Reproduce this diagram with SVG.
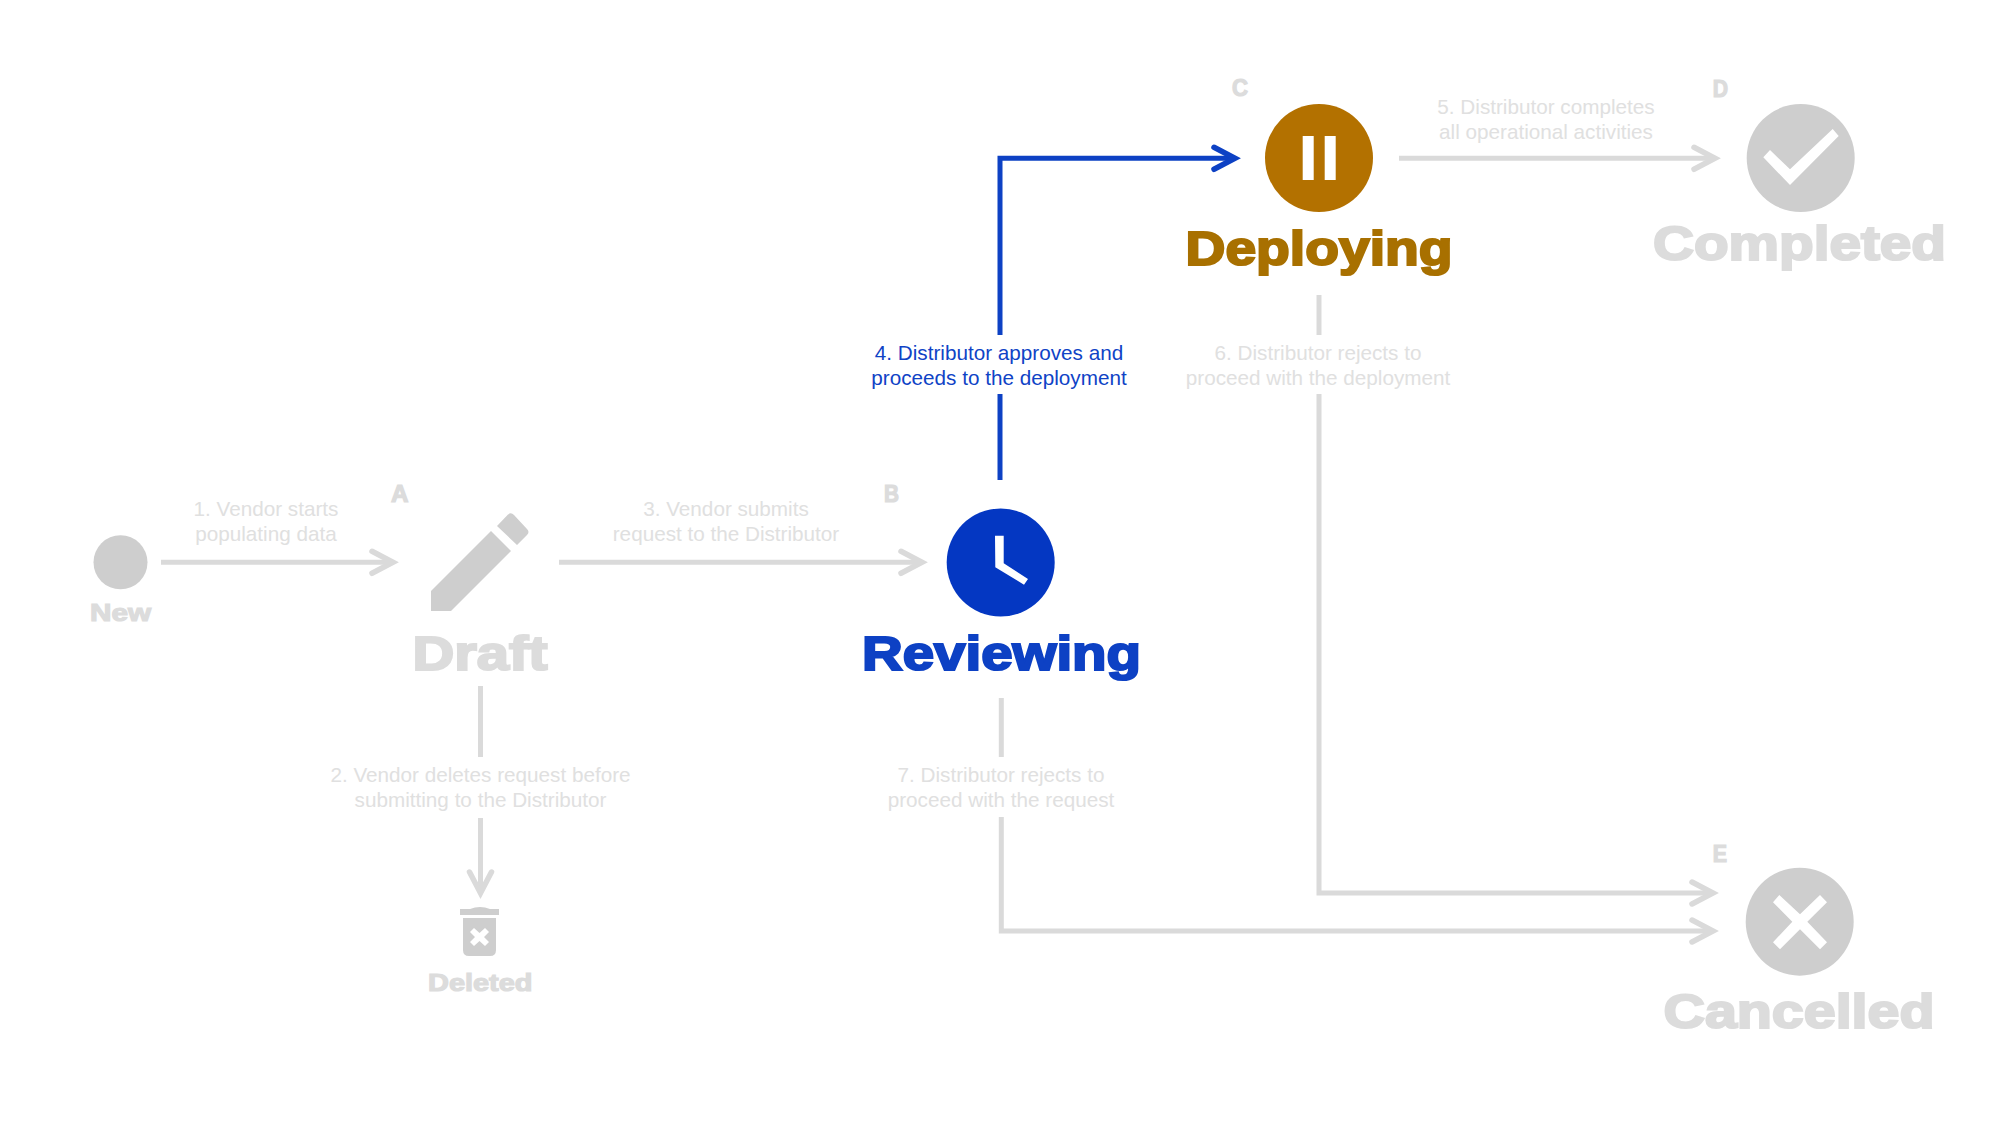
<svg xmlns="http://www.w3.org/2000/svg" width="2000" height="1125" viewBox="0 0 2000 1125">
<style>
text{font-family:"Liberation Sans",Arial,sans-serif}
.lbl{font-size:20.7px;text-anchor:middle;fill:#e0e0e0}
.lbl.on{fill:#0f43c6}
.hv{font-weight:700;stroke-width:2.2px;stroke-linejoin:miter;paint-order:stroke}
.big{font-size:49px}
.sm{font-size:24.5px;stroke-width:1.2px}
.let{font-size:23px;stroke-width:1.2px}
.g{fill:#dcdcdc;stroke:#dcdcdc}
.ic{fill:#cecece}
.w{fill:#fff}
.c{fill:none;stroke:#dadada;stroke-width:5}
.c.on{stroke:#0d41c4}
</style>
<defs>
<marker id="ag" markerUnits="userSpaceOnUse" markerWidth="40" markerHeight="40" refX="30" refY="20" orient="auto" overflow="visible"><path d="M9,9L30,20L9,31" fill="none" stroke="#dadada" stroke-width="5.500" stroke-linecap="round" stroke-miterlimit="8"/></marker>
<marker id="ab" markerUnits="userSpaceOnUse" markerWidth="40" markerHeight="40" refX="30" refY="20" orient="auto" overflow="visible"><path d="M9,9L30,20L9,31" fill="none" stroke="#0d41c4" stroke-width="5.500" stroke-linecap="round" stroke-miterlimit="8"/></marker>
</defs>
<rect width="2000" height="1125" fill="#fff"/>
<g id="connectors">
<path class="c" d="M161,562.300H393" marker-end="url(#ag)"/>
<path class="c" d="M559,562.300H922" marker-end="url(#ag)"/>
<path class="c" d="M480.500,686V757"/>
<path class="c" d="M480.500,818V893" marker-end="url(#ag)"/>
<path class="c on" d="M1000,480V394"/>
<path class="c on" d="M1000,335V158.300H1235" marker-end="url(#ab)"/>
<path class="c" d="M1399,158.300H1715" marker-end="url(#ag)"/>
<path class="c" d="M1319,295V335"/>
<path class="c" d="M1319,394V893H1713" marker-end="url(#ag)"/>
<path class="c" d="M1001.300,698V757"/>
<path class="c" d="M1001.300,817V931H1713" marker-end="url(#ag)"/>
<g id="connector-labels">
<text class="lbl" x="266" y="516">1. Vendor starts</text><text class="lbl" x="266" y="541">populating data</text>
<text class="lbl" x="480.500" y="782">2. Vendor deletes request before</text><text class="lbl" x="480.500" y="807">submitting to the Distributor</text>
<text class="lbl" x="726" y="516">3. Vendor submits</text><text class="lbl" x="726" y="541">request to the Distributor</text>
<text class="lbl on" x="999" y="360">4. Distributor approves and</text><text class="lbl on" x="999" y="385">proceeds to the deployment</text>
<text class="lbl" x="1546" y="114">5. Distributor completes</text><text class="lbl" x="1546" y="139">all operational activities</text>
<text class="lbl" x="1318" y="360">6. Distributor rejects to</text><text class="lbl" x="1318" y="385">proceed with the deployment</text>
<text class="lbl" x="1001" y="782">7. Distributor rejects to</text><text class="lbl" x="1001" y="807">proceed with the request</text>
</g>
</g>
<g id="new">
<circle class="ic" cx="120.500" cy="562.300" r="27"/>
<text class="hv sm g" x="90" y="621" textLength="61" lengthAdjust="spacingAndGlyphs">New</text>
</g>
<g id="draft">
<path class="ic" d="M431,591L491,531L511,551L451,611H431Z"/>
<path class="ic" d="M497,526L508,514.500Q511,512 514,515L527,529Q530,532 527,535L517,545Z"/>
<text class="hv big g" x="412.500" y="670" textLength="135" lengthAdjust="spacingAndGlyphs">Draft</text>
<text class="hv let g" x="391" y="502" textLength="17.500" lengthAdjust="spacingAndGlyphs">A</text>
</g>
<g id="deleted">
<path class="ic" d="M460,909H470Q475,907 480,907Q485,907 490,909H499V915H460Z"/>
<path class="ic" d="M463,918H496V950Q496,956 490,956H469Q463,956 463,950Z"/>
<path class="w" d="M474,928L479.500,933L485,928L489,932L484,937L489,942L485,946L479.500,941L474,946L470,942L475,937L470,932Z"/>
<text class="hv sm g" x="428" y="991" textLength="104.500" lengthAdjust="spacingAndGlyphs">Deleted</text>
</g>
<g id="reviewing">
<circle cx="1000.700" cy="562.500" r="54" fill="#0437c2"/>
<path class="w" d="M995,535.700H1003.700V563.300L1028,579L1024,584.700L995.300,567.300Z"/>
<text class="hv big" fill="#0d41c4" stroke="#0d41c4" x="862" y="670" textLength="279" lengthAdjust="spacingAndGlyphs">Reviewing</text>
<text class="hv let g" x="884" y="501.700" textLength="15" lengthAdjust="spacingAndGlyphs">B</text>
</g>
<g id="deploying">
<circle cx="1319" cy="158" r="54" fill="#b37100"/>
<rect class="w" x="1302.700" y="136" width="11" height="44"/>
<rect class="w" x="1324.700" y="136" width="11" height="44"/>
<text class="hv big" fill="#a87000" stroke="#a87000" x="1185.500" y="265" textLength="267" lengthAdjust="spacingAndGlyphs">Deploying</text>
<text class="hv let g" x="1232" y="96" textLength="16" lengthAdjust="spacingAndGlyphs">C</text>
</g>
<g id="completed">
<circle class="ic" cx="1800.700" cy="158" r="54"/>
<path class="w" d="M1763.300,157.300L1770,150L1790,169.300L1832.700,129L1838.700,136L1790,185Z"/>
<text class="hv big g" x="1653" y="260" textLength="293" lengthAdjust="spacingAndGlyphs">Completed</text>
<text class="hv let g" x="1712.700" y="96.700" textLength="15.300" lengthAdjust="spacingAndGlyphs">D</text>
</g>
<g id="cancelled">
<circle class="ic" cx="1799.700" cy="921.700" r="54"/>
<path class="w" d="M1779.300,895L1800,914.300L1820,895L1827,902.300L1807.300,921.700L1827,942.300L1820,949.300L1800,929.300L1780,949.300L1773,942.300L1792.300,921.700L1773,902.300Z"/>
<text class="hv big g" x="1663.500" y="1028" textLength="271" lengthAdjust="spacingAndGlyphs">Cancelled</text>
<text class="hv let g" x="1712.700" y="861.700" textLength="14.300" lengthAdjust="spacingAndGlyphs">E</text>
</g>
</svg>
